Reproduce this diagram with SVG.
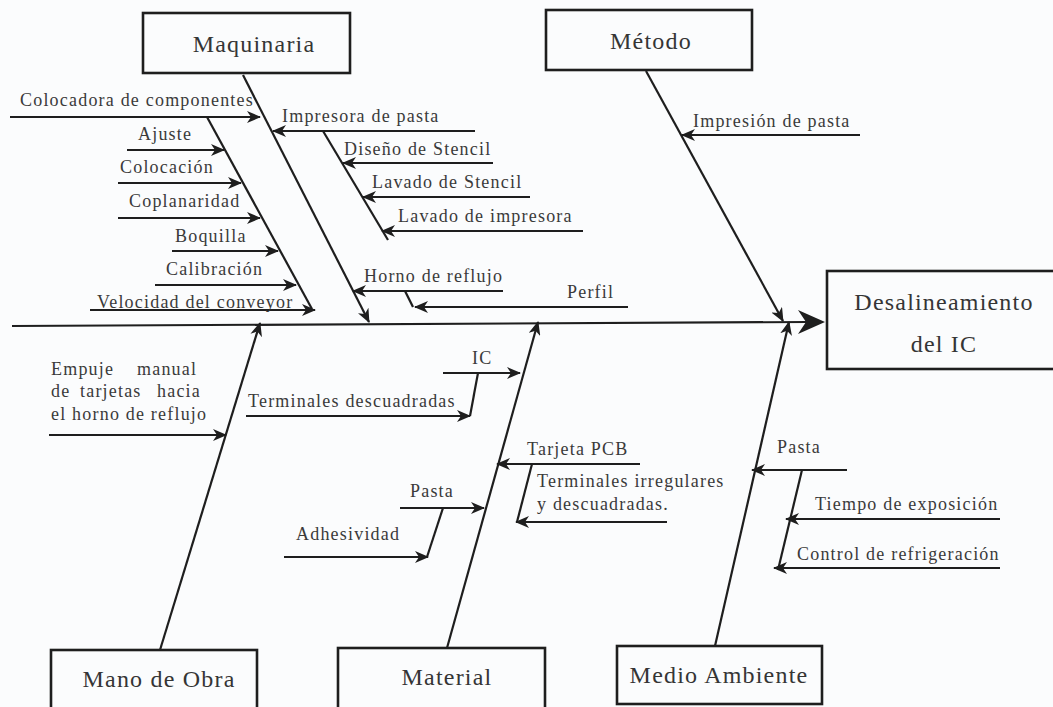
<svg xmlns="http://www.w3.org/2000/svg" width="1053" height="707" viewBox="0 0 1053 707">
  <style>
    .bg { fill: #fbfcfd; }
    .box { fill: none; stroke: #1e1e1e; stroke-width: 2.6; }
    .ln { fill: none; stroke: #1e1e1e; stroke-width: 2.2; }
    .arr { fill: none; stroke: #1e1e1e; stroke-width: 2.2; marker-end: url(#ah); }
    .t { font-family: "Liberation Serif", "Times New Roman", serif; fill: #3a3a3a; font-size: 18px; letter-spacing: 1.2px; }
    .big { font-family: "Liberation Serif", "Times New Roman", serif; fill: #353535; font-size: 24px; letter-spacing: 1.2px; text-anchor: middle; }
  </style>
  <defs>
    <marker id="ah" viewBox="0 0 14 12" refX="13" refY="6" markerWidth="14" markerHeight="12" markerUnits="userSpaceOnUse" orient="auto">
      <path d="M0,0 L14,6 L0,12 L4,6 Z" fill="#1e1e1e"/>
    </marker>
  </defs>
  <rect class="bg" x="0" y="0" width="1053" height="707"/>

  <!-- effect and category boxes -->
  <g id="maquinaria">
    <rect class="box" x="143" y="13" width="207" height="60"/>
    <text class="big" x="254" y="52">Maquinaria</text>
  </g>
  <g id="metodo">
    <rect class="box" x="546" y="10" width="206" height="60"/>
    <text class="big" x="651" y="49">Método</text>
  </g>
  <g id="efecto">
    <rect class="box" x="827" y="271" width="232" height="98"/>
    <text class="big" x="944" y="310">Desalineamiento</text>
    <text class="big" x="944" y="352">del IC</text>
  </g>
  <g id="mano-de-obra">
    <rect class="box" x="51" y="650" width="206" height="60"/>
    <text class="big" x="159" y="687">Mano de Obra</text>
  </g>
  <g id="material">
    <rect class="box" x="338" y="648" width="207" height="62"/>
    <text class="big" x="447" y="685">Material</text>
  </g>
  <g id="medio-ambiente">
    <rect class="box" x="617" y="646" width="205" height="58"/>
    <text class="big" x="719" y="683">Medio Ambiente</text>
  </g>

  <!-- spine, bones and cause arrows -->
  <g id="connectors">
    <line class="ln" x1="12" y1="326" x2="808" y2="322"/>
    <path d="M825,322 L798,310 L806,322 L798,334 Z" fill="#1e1e1e"/>

    <!-- Maquinaria -->
    <line class="arr" x1="243" y1="75" x2="369" y2="322"/>
    <line class="arr" x1="10" y1="117" x2="260" y2="117"/>
    <line class="ln" x1="207" y1="117" x2="312" y2="309"/>
    <line class="arr" x1="127" y1="150" x2="224" y2="150"/>
    <line class="arr" x1="118" y1="183" x2="241" y2="183"/>
    <line class="arr" x1="118" y1="218" x2="260" y2="218"/>
    <line class="arr" x1="172" y1="251" x2="278" y2="251"/>
    <line class="arr" x1="155" y1="285" x2="296" y2="285"/>
    <line class="arr" x1="90" y1="310" x2="315" y2="310"/>
    <line class="arr" x1="475" y1="131" x2="273" y2="131"/>
    <line class="ln" x1="323" y1="131" x2="388" y2="240"/>
    <line class="arr" x1="493" y1="163" x2="343" y2="163"/>
    <line class="arr" x1="530" y1="197" x2="363" y2="197"/>
    <line class="arr" x1="583" y1="231" x2="382" y2="231"/>
    <line class="arr" x1="503" y1="291" x2="353" y2="291"/>
    <polyline class="ln" points="405,291 413,307"/>
    <line class="arr" x1="628" y1="307" x2="415" y2="307"/>

    <!-- Método -->
    <line class="arr" x1="646" y1="71" x2="783" y2="321"/>
    <line class="arr" x1="860" y1="135" x2="682" y2="135"/>

    <!-- Mano de Obra -->
    <line class="arr" x1="160" y1="650" x2="260" y2="323"/>
    <line class="arr" x1="49" y1="435" x2="226" y2="435"/>

    <!-- Material -->
    <line class="arr" x1="447" y1="648" x2="538" y2="322"/>
    <line class="arr" x1="443" y1="373" x2="520" y2="373"/>
    <line class="ln" x1="478" y1="373" x2="470" y2="416"/>
    <line class="arr" x1="246" y1="416" x2="470" y2="416"/>
    <line class="arr" x1="400" y1="508" x2="484" y2="508"/>
    <line class="ln" x1="443" y1="508" x2="427" y2="557"/>
    <line class="arr" x1="284" y1="557" x2="428" y2="557"/>
    <line class="arr" x1="640" y1="464" x2="497" y2="464"/>
    <line class="ln" x1="532" y1="464" x2="517" y2="522"/>
    <line class="arr" x1="667" y1="522" x2="516" y2="522"/>

    <!-- Medio Ambiente -->
    <line class="arr" x1="715" y1="646" x2="789" y2="322"/>
    <line class="arr" x1="847" y1="470" x2="752" y2="470"/>
    <line class="ln" x1="802" y1="470" x2="778" y2="570"/>
    <line class="arr" x1="1000" y1="519" x2="786" y2="519"/>
    <line class="arr" x1="1000" y1="568" x2="774" y2="568"/>
  </g>

  <!-- cause labels -->
  <g id="causas-maquinaria">
    <text class="t" x="20" y="106">Colocadora de componentes</text>
    <text class="t" x="138" y="140">Ajuste</text>
    <text class="t" x="120" y="173">Colocación</text>
    <text class="t" x="129" y="207">Coplanaridad</text>
    <text class="t" x="175" y="242">Boquilla</text>
    <text class="t" x="166" y="275">Calibración</text>
    <text class="t" x="97" y="308">Velocidad del conveyor</text>
    <text class="t" x="282" y="122">Impresora de pasta</text>
    <text class="t" x="344" y="155">Diseño de Stencil</text>
    <text class="t" x="372" y="188">Lavado de Stencil</text>
    <text class="t" x="398" y="222">Lavado de impresora</text>
    <text class="t" x="364" y="282">Horno de reflujo</text>
    <text class="t" x="567" y="298">Perfil</text>
  </g>
  <g id="causas-metodo">
    <text class="t" x="693" y="127">Impresión de pasta</text>
  </g>
  <g id="causas-mano-de-obra">
    <text class="t" x="51" y="375">Empuje</text>
    <text class="t" x="137" y="375">manual</text>
    <text class="t" x="51" y="397">de</text>
    <text class="t" x="80" y="397">tarjetas</text>
    <text class="t" x="157" y="397">hacia</text>
    <text class="t" x="51" y="420">el horno de reflujo</text>
  </g>
  <g id="causas-material">
    <text class="t" x="472" y="364">IC</text>
    <text class="t" x="248" y="407">Terminales descuadradas</text>
    <text class="t" x="410" y="497">Pasta</text>
    <text class="t" x="296" y="540">Adhesividad</text>
    <text class="t" x="527" y="455">Tarjeta PCB</text>
    <text class="t" x="537" y="487">Terminales irregulares</text>
    <text class="t" x="537" y="510">y descuadradas.</text>
  </g>
  <g id="causas-medio-ambiente">
    <text class="t" x="777" y="453">Pasta</text>
    <text class="t" x="815" y="510">Tiempo de exposición</text>
    <text class="t" x="797" y="560">Control de refrigeración</text>
  </g>
</svg>
